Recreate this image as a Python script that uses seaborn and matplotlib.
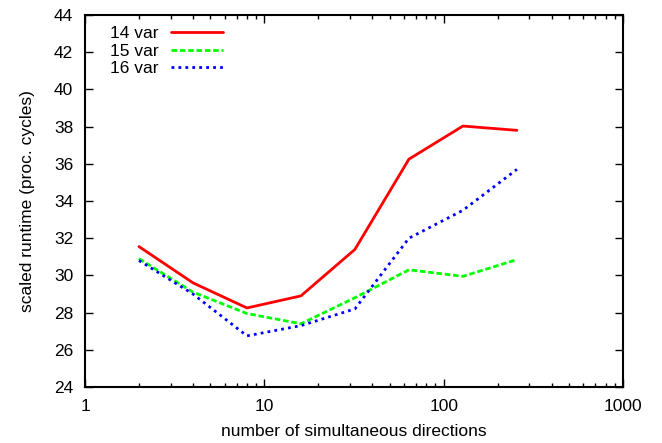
import pandas as pd
import seaborn as sns
import matplotlib.pyplot as plt
from matplotlib.transforms import Bbox

# number of simultaneous directions
directions = [2, 4, 8, 16, 32, 64, 128, 256]

# scaled runtime (proc. cycles) per variable count
var14 = [31.55, 29.6, 28.25, 28.9, 31.4, 36.25, 38.03, 37.8]
var15 = [30.9, 29.1, 27.95, 27.4, 28.8, 30.3, 29.95, 30.85]
var16 = [30.8, 29.0, 26.75, 27.3, 28.2, 32.0, 33.5, 35.7]

series_names = ['14 var', '15 var', '16 var']
series_colors = ['#ff0000', '#00ff00', '#0000ff']

df = pd.DataFrame({
    'directions': directions * 3,
    'runtime': var14 + var15 + var16,
    'series': [n for n in series_names for _ in directions],
})

sns.set_style('ticks')
plt.rcParams['font.family'] = ['Liberation Sans', 'DejaVu Sans']
plt.rcParams['text.color'] = 'black'
plt.rcParams['axes.labelcolor'] = 'black'
plt.rcParams['xtick.color'] = 'black'
plt.rcParams['ytick.color'] = 'black'

fig = plt.figure(figsize=(6.62, 4.43), dpi=100)
ax = fig.add_axes([0.1284, 0.1264, 0.8127, 0.8397])

sns.lineplot(data=df, x='directions', y='runtime', hue='series', style='series',
             palette=dict(zip(series_names, series_colors)),
             dashes={'14 var': '', '15 var': (2, 1), '16 var': (1, 1.5)},
             linewidth=2, ax=ax)

ax.set_xscale('log')
ax.set_xlim(1, 1000)
ax.set_ylim(24, 44)
ax.set_yticks(range(24, 45, 2))
ax.set_xticks([1, 10, 100, 1000])
ax.set_xticklabels(['1', '10', '100', '1000'])

ax.tick_params(which='both', direction='in', top=True, right=True, labelsize=12.5,
               color='black', pad=8.5)
ax.tick_params(which='major', length=6, width=1)
ax.tick_params(which='minor', length=3, width=1)
for sp in ax.spines.values():
    sp.set_linewidth(1.5)
    sp.set_color('black')

ax.set_xlabel('number of simultaneous directions', fontsize=12.5, labelpad=7)
ax.set_ylabel('scaled runtime (proc. cycles)', fontsize=12.5, labelpad=14)

leg = ax.legend(loc='upper left', frameon=False, markerfirst=False, fontsize=12.5,
                handlelength=3.0, handletextpad=0.7, labelspacing=0.12,
                bbox_to_anchor=(0.025, 1.0), borderaxespad=0.25)

# the reference cuts off the right-most tick label
fig.canvas.draw()
clip = Bbox.from_extents(0, 0, 642, 443)
for lab in ax.get_xticklabels():
    lab.set_clip_box(clip)
    lab.set_clip_on(True)

fig.savefig('out.png', dpi=100)
